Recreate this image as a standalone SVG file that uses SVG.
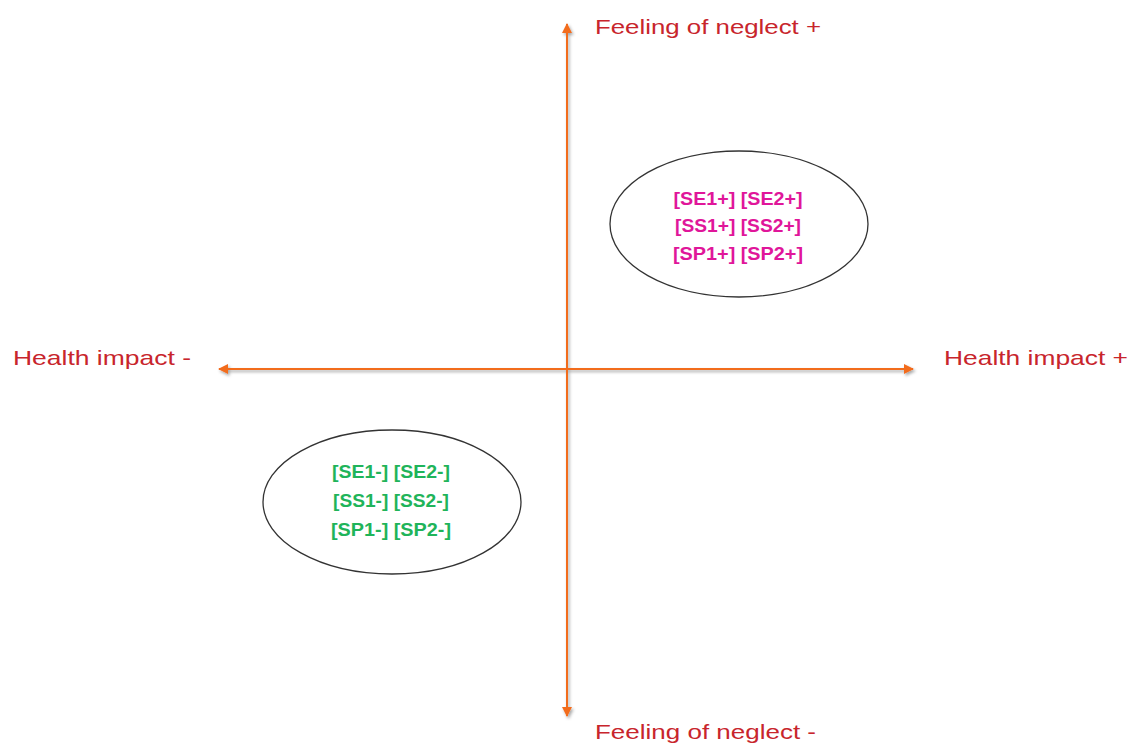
<svg xmlns="http://www.w3.org/2000/svg" width="1131" height="744" viewBox="0 0 1131 744">
<defs>
<style>
.ax{stroke:#f26c1f;stroke-width:2;fill:none;marker-start:url(#ah);marker-end:url(#ah)}
.lab{font-family:"Liberation Sans",Arial,sans-serif;font-size:21px;fill:#c8252c}
.el{fill:#fff;stroke:#333;stroke-width:1.3}
.t{font-family:"Liberation Sans",Arial,sans-serif;font-weight:bold;font-size:19px;text-anchor:middle}
.pk{fill:#e0169a}
.gn{fill:#1fb45a}
</style>
<marker id="ah" viewBox="0 0 10 10" refX="9" refY="5" markerWidth="11" markerHeight="10" orient="auto-start-reverse" markerUnits="userSpaceOnUse">
<path d="M0,0 L10,5 L0,10 z" fill="#f26c1f"/>
</marker>
<filter id="sh" x="-5%" y="-5%" width="110%" height="110%">
<feDropShadow dx="1.5" dy="2" stdDeviation="1.5" flood-color="#000" flood-opacity="0.35"/>
</filter>
</defs>
<rect width="1131" height="744" fill="#fff"/>
<g id="connectors" filter="url(#sh)">
<line class="ax" x1="567" y1="716" x2="567" y2="24"/>
<line class="ax" x1="219" y1="369" x2="913" y2="369"/>
</g>
<g id="label-neglect-plus"><text class="lab" x="595" y="34" textLength="226" lengthAdjust="spacingAndGlyphs">Feeling of neglect +</text></g>
<g id="label-neglect-minus"><text class="lab" x="595" y="739" textLength="221" lengthAdjust="spacingAndGlyphs">Feeling of neglect -</text></g>
<g id="label-health-minus"><text class="lab" x="13" y="365" textLength="178" lengthAdjust="spacingAndGlyphs">Health impact -</text></g>
<g id="label-health-plus"><text class="lab" x="944" y="365" textLength="184" lengthAdjust="spacingAndGlyphs">Health impact +</text></g>
<g id="node-plus">
<ellipse class="el" cx="739" cy="224" rx="129" ry="73"/>
<text class="t pk" x="738" y="205" textLength="129" lengthAdjust="spacingAndGlyphs">[SE1+] [SE2+]</text>
<text class="t pk" x="738" y="232" textLength="126" lengthAdjust="spacingAndGlyphs">[SS1+] [SS2+]</text>
<text class="t pk" x="738" y="260" textLength="130" lengthAdjust="spacingAndGlyphs">[SP1+] [SP2+]</text>
</g>
<g id="node-minus">
<ellipse class="el" cx="392" cy="502" rx="129" ry="72"/>
<text class="t gn" x="391" y="478" textLength="118" lengthAdjust="spacingAndGlyphs">[SE1-] [SE2-]</text>
<text class="t gn" x="391" y="507" textLength="116" lengthAdjust="spacingAndGlyphs">[SS1-] [SS2-]</text>
<text class="t gn" x="391" y="536" textLength="120" lengthAdjust="spacingAndGlyphs">[SP1-] [SP2-]</text>
</g>
</svg>
